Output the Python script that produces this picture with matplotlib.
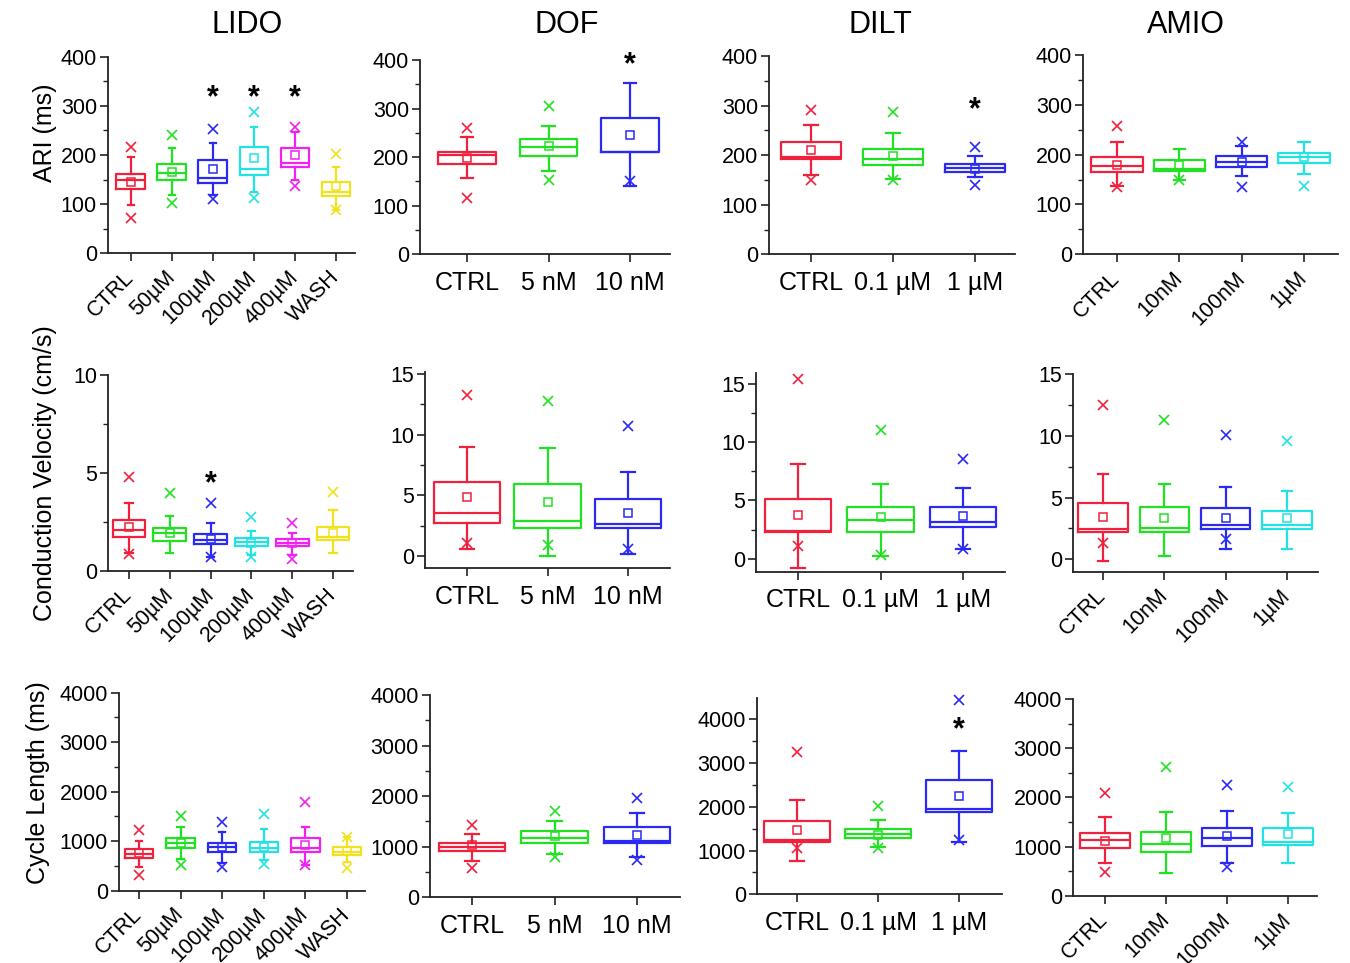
import matplotlib
matplotlib.use("Agg")
import matplotlib.pyplot as plt
from matplotlib.ticker import MultipleLocator
from matplotlib.transforms import offset_copy

plt.rcParams['font.family'] = ['Liberation Sans', 'DejaVu Sans']

W, H = 1350, 963

# ---------------- DATA ----------------
drugs = ["LIDO", "DOF", "DILT", "AMIO"]
lido_cats = ["CTRL", "50\u00b5M", "100\u00b5M", "200\u00b5M", "400\u00b5M", "WASH"]
dof_cats = ["CTRL", "5 nM", "10 nM"]
dilt_cats = ["CTRL", "0.1 \u00b5M", "1 \u00b5M"]
amio_cats = ["CTRL", "10nM", "100nM", "1\u00b5M"]
row_labels = ["ARI (ms)", "Conduction Velocity (cm/s)", "Cycle Length (ms)"]

# ARI (ms)
lido_ari_lo = [98, 119, 119, 125, 149, 88]
lido_ari_q1 = [131, 149, 144, 159, 176, 117]
lido_ari_med = [149, 163, 153, 171, 183, 125]
lido_ari_q3 = [161, 181, 190, 216, 214, 146]
lido_ari_hi = [195, 214, 224, 256, 247, 176]
lido_ari_mean = [146, 166, 171, 193, 199, 136]
lido_ari_xmax = [217, 241, 252, 288, 256, 203]
lido_ari_xmin = [71, 102, 110, 112, 136, 88]
lido_ari_star = [None, None, 329, 329, 329, None]

dof_ari_lo = [158, 172, 141]
dof_ari_q1 = [186, 202, 210]
dof_ari_med = [204, 220, 211]
dof_ari_q3 = [211, 237, 281]
dof_ari_hi = [242, 264, 352]
dof_ari_mean = [198, 222, 246]
dof_ari_xmax = [259, 305, None]
dof_ari_xmin = [115, 153, 150]
dof_ari_star = [None, None, 403]

dilt_ari_lo = [160, 151, 155]
dilt_ari_q1 = [192, 180, 167]
dilt_ari_med = [196, 192, 175]
dilt_ari_q3 = [227, 212, 182]
dilt_ari_hi = [260, 244, 198]
dilt_ari_mean = [210, 198, 173]
dilt_ari_xmax = [292, 288, 217]
dilt_ari_xmin = [150, 150, 140]
dilt_ari_star = [None, None, 305]

amio_ari_lo = [137, 149, 157, 161]
amio_ari_q1 = [165, 167, 176, 183]
amio_ari_med = [178, 171, 185, 196]
amio_ari_q3 = [196, 189, 197, 203]
amio_ari_hi = [226, 211, 217, 226]
amio_ari_mean = [179, 179, 186, 195]
amio_ari_xmax = [258, None, 226, None]
amio_ari_xmin = [136, 149, 136, 138]
amio_ari_star = [None, None, None, None]

# Conduction velocity (cm/s)
lido_cv_lo = [0.90, 0.94, 0.73, 0.82, 0.82, 0.90]
lido_cv_q1 = [1.75, 1.55, 1.38, 1.29, 1.29, 1.58]
lido_cv_med = [2.09, 1.92, 1.58, 1.46, 1.41, 1.75]
lido_cv_q3 = [2.60, 2.18, 1.89, 1.67, 1.62, 2.26]
lido_cv_hi = [3.49, 2.81, 2.43, 2.06, 1.96, 3.11]
lido_cv_mean = [2.26, 1.96, 1.63, 1.45, 1.45, 1.92]
lido_cv_xmax = [4.81, 3.96, 3.45, 2.74, 2.43, 4.05]
lido_cv_xmin = [0.87, None, 0.70, 0.73, 0.60, None]
lido_cv_star = [None, None, 4.8, None, None, None]

dof_cv_lo = [0.63, 0.0, 0.2]
dof_cv_q1 = [2.77, 2.36, 2.34]
dof_cv_med = [3.52, 2.91, 2.64]
dof_cv_q3 = [6.07, 5.93, 4.70]
dof_cv_hi = [9.0, 8.93, 6.95]
dof_cv_mean = [4.84, 4.48, 3.57]
dof_cv_xmax = [13.3, 12.8, 10.74]
dof_cv_xmin = [1.1, 0.9, 0.55]
dof_cv_star = [None, None, None]

dilt_cv_lo = [-0.8, 0.26, 0.86]
dilt_cv_q1 = [2.26, 2.29, 2.71]
dilt_cv_med = [2.34, 3.3, 3.14]
dilt_cv_q3 = [5.14, 4.4, 4.43]
dilt_cv_hi = [8.14, 6.43, 6.06]
dilt_cv_mean = [3.77, 3.57, 3.63]
dilt_cv_xmax = [15.4, 11.06, 8.54]
dilt_cv_xmin = [1.06, 0.34, 0.83]
dilt_cv_star = [None, None, None]

amio_cv_lo = [-0.1, 0.27, 0.81, 0.81]
amio_cv_q1 = [2.24, 2.24, 2.46, 2.46]
amio_cv_med = [2.46, 2.51, 2.78, 2.78]
amio_cv_q3 = [4.59, 4.22, 4.19, 3.95]
amio_cv_hi = [6.89, 6.11, 5.89, 5.57]
amio_cv_mean = [3.41, 3.32, 3.32, 3.32]
amio_cv_xmax = [12.5, 11.3, 10.03, 9.54]
amio_cv_xmin = [1.35, None, 1.62, None]
amio_cv_star = [None, None, None, None]

# Cycle length (ms)
lido_cl_lo = [485, 633, 566, 620, 518, 586]
lido_cl_q1 = [653, 855, 774, 788, 788, 720]
lido_cl_med = [741, 956, 875, 855, 855, 788]
lido_cl_q3 = [835, 1057, 970, 990, 1057, 875]
lido_cl_hi = [1003, 1279, 1192, 1239, 1293, 1091]
lido_cl_mean = [754, 970, 889, 889, 922, 808]
lido_cl_xmax = [1226, 1508, 1394, 1549, 1798, 1091]
lido_cl_xmin = [316, 518, 485, 532, 518, 451]
lido_cl_star = [None] * 6

dof_cl_lo = [722, 848, 788]
dof_cl_q1 = [914, 1066, 1066]
dof_cl_med = [1000, 1166, 1100]
dof_cl_q3 = [1066, 1298, 1384]
dof_cl_hi = [1252, 1497, 1662]
dof_cl_mean = [1020, 1199, 1232]
dof_cl_xmax = [1417, 1695, 1960]
dof_cl_xmin = [570, 800, 735]
dof_cl_star = [None] * 3

dilt_cl_lo = [762, 1089, 1203]
dilt_cl_q1 = [1203, 1295, 1889]
dilt_cl_med = [1241, 1378, 1942]
dilt_cl_q3 = [1676, 1485, 2612]
dilt_cl_hi = [2155, 1698, 3283]
dilt_cl_mean = [1470, 1356, 2247]
dilt_cl_xmax = [3260, 2018, 4440]
dilt_cl_xmin = [1051, 1051, 1241]
dilt_cl_star = [None, None, 3907]

amio_cl_lo = [658, 454, 658, 658]
amio_cl_q1 = [963, 895, 1017, 1031]
amio_cl_med = [1132, 1051, 1166, 1098]
amio_cl_q3 = [1281, 1302, 1383, 1369]
amio_cl_hi = [1607, 1708, 1729, 1688]
amio_cl_mean = [1119, 1166, 1214, 1254]
amio_cl_xmax = [2081, 2624, 2251, 2217]
amio_cl_xmin = [488, None, 590, None]
amio_cl_star = [None] * 4

box_colors = ["#f0213c", "#22e022", "#2a2af2", "#22e2e2", "#f022f0", "#f2e21c"]

# ---------------- LAYOUT (pixels) ----------------
# left, right, first-cat x, last-cat x, top y, bottom y, ylim, box width, rotated labels
layout = {
    ("LIDO", 0): (108, 355, 130.7, 336, 56.7, 253.3, (0, 400), 0.70, True),
    ("DOF", 0): (420, 670, 467, 630, 60, 254.3, (0, 400), 0.71, False),
    ("DILT", 0): (769, 1015, 811, 975, 56, 254.3, (0, 400), 0.74, False),
    ("AMIO", 0): (1083, 1338, 1117, 1304, 55, 254.3, (0, 400), 0.82, True),
    ("LIDO", 1): (108, 353, 129, 333, 375, 571, (0, 10), 0.80, True),
    ("DOF", 1): (425, 670, 467, 628, 371.7, 568.3, (-1.0, 15.2), 0.82, False),
    ("DILT", 1): (756, 1005, 798, 963, 373, 571.7, (-1.1, 15.9), 0.81, False),
    ("AMIO", 1): (1073, 1318, 1103, 1287, 374, 571.7, (-1.0, 15.0), 0.80, True),
    ("LIDO", 2): (119, 365, 139, 347, 692.7, 890.7, (0, 4000), 0.68, True),
    ("DOF", 2): (430, 680, 472, 637, 695, 897, (0, 4000), 0.81, False),
    ("DILT", 2): (757, 1002, 797, 959, 698.3, 894.3, (0, 4480), 0.81, False),
    ("AMIO", 2): (1073, 1317, 1105, 1288, 699, 895.7, (0, 4000), 0.82, True),
}
title_pos = {"LIDO": (247, 25), "DOF": (567, 25), "DILT": (880, 25), "AMIO": (1186, 25)}
row_ticks = [(100, 50), (5, 2.5), (1000, 500)]

cats = {"LIDO": lido_cats, "DOF": dof_cats, "DILT": dilt_cats, "AMIO": amio_cats}
g = globals()
metric_keys = ["ari", "cv", "cl"]

fig = plt.figure(figsize=(W / 100, H / 100), dpi=100)

for ri, mk in enumerate(metric_keys):
    for drug in drugs:
        pre = f"{drug.lower()}_{mk}_"
        lo, q1, med, q3, hi, mean = (g[pre + s] for s in ["lo", "q1", "med", "q3", "hi", "mean"])
        xmax, xmin, star = g[pre + "xmax"], g[pre + "xmin"], g[pre + "star"]
        labels = cats[drug]
        n = len(labels)
        L, R, c0, c1, T, B, ylim, bw, rot = layout[(drug, ri)]
        ax = fig.add_axes([L / W, 1 - B / H, (R - L) / W, (B - T) / H])
        s = (c1 - c0) / (n - 1)
        ax.set_xlim(1 - (c0 - L) / s, n + (R - c1) / s)
        ax.set_ylim(*ylim)
        pos = list(range(1, n + 1))
        stats = [dict(whislo=lo[i], q1=q1[i], med=med[i], q3=q3[i], whishi=hi[i],
                      mean=mean[i], fliers=[]) for i in range(n)]
        art = ax.bxp(stats, positions=pos, widths=bw, showmeans=True, showfliers=False,
                     capwidths=bw * 0.22, patch_artist=False)
        star_tr = offset_copy(ax.transData, fig=fig, x=0, y=-5, units='points')
        for i in range(n):
            c = box_colors[i]
            art['boxes'][i].set(color=c, linewidth=1.6)
            art['medians'][i].set(color=c, linewidth=1.6)
            for k in (2 * i, 2 * i + 1):
                art['whiskers'][k].set(color=c, linewidth=1.6)
                art['caps'][k].set(color=c, linewidth=1.6)
            art['means'][i].set(marker='s', markerfacecolor='none', markeredgecolor=c,
                                markersize=5.5, markeredgewidth=1.1)
            for v in (xmax[i], xmin[i]):
                if v is not None:
                    ax.plot(pos[i], v, marker='x', color=c, markersize=7, mew=1.2,
                            clip_on=False)
            if star[i] is not None:
                ax.text(pos[i], star[i], "*", ha='center', va='center', fontsize=22,
                        fontweight='bold', color='black', clip_on=False,
                        transform=star_tr)
        for sp in ("top", "right"):
            ax.spines[sp].set_visible(False)
        for sp in ("left", "bottom"):
            ax.spines[sp].set_linewidth(1.3)
            ax.spines[sp].set_color("#222222")
        mj, mn = row_ticks[ri]
        ax.yaxis.set_major_locator(MultipleLocator(mj))
        ax.yaxis.set_minor_locator(MultipleLocator(mn))
        ax.set_yticks([t for t in ax.get_yticks() if ylim[0] - 1e-9 <= t <= ylim[1] + 1e-9])
        ax.set_ylim(*ylim)
        ax.tick_params(axis='y', which='major', direction='out', length=6, width=1.2,
                       labelsize=15.5, color="#222222", pad=2)
        ax.tick_params(axis='y', which='minor', direction='out', length=3.5, width=1.0,
                       color="#222222")
        ax.set_xticks(pos)
        ax.tick_params(axis='x', which='major', direction='out', length=6, width=1.2,
                       color="#222222")
        if rot:
            ax.set_xticklabels(labels, rotation=45, ha='right', va='center',
                               rotation_mode='anchor', fontsize=15.5)
            ax.tick_params(axis='x', pad=9)
        else:
            ax.set_xticklabels(labels, fontsize=18)
            ax.tick_params(axis='x', pad=6)
        if ri == 0:
            tx, ty = title_pos[drug]
            fig.text(tx / W, 1 - ty / H, drug, ha='center', va='center', fontsize=22)

fig.text(45 / W, 1 - 133 / H, row_labels[0], rotation=90, ha='center', va='center', fontsize=18)
fig.text(45 / W, 1 - 473 / H, row_labels[1], rotation=90, ha='center', va='center', fontsize=18)
fig.text(38 / W, 1 - 783 / H, row_labels[2], rotation=90, ha='center', va='center', fontsize=18)

fig.savefig("out.png", dpi=100, facecolor="white")
